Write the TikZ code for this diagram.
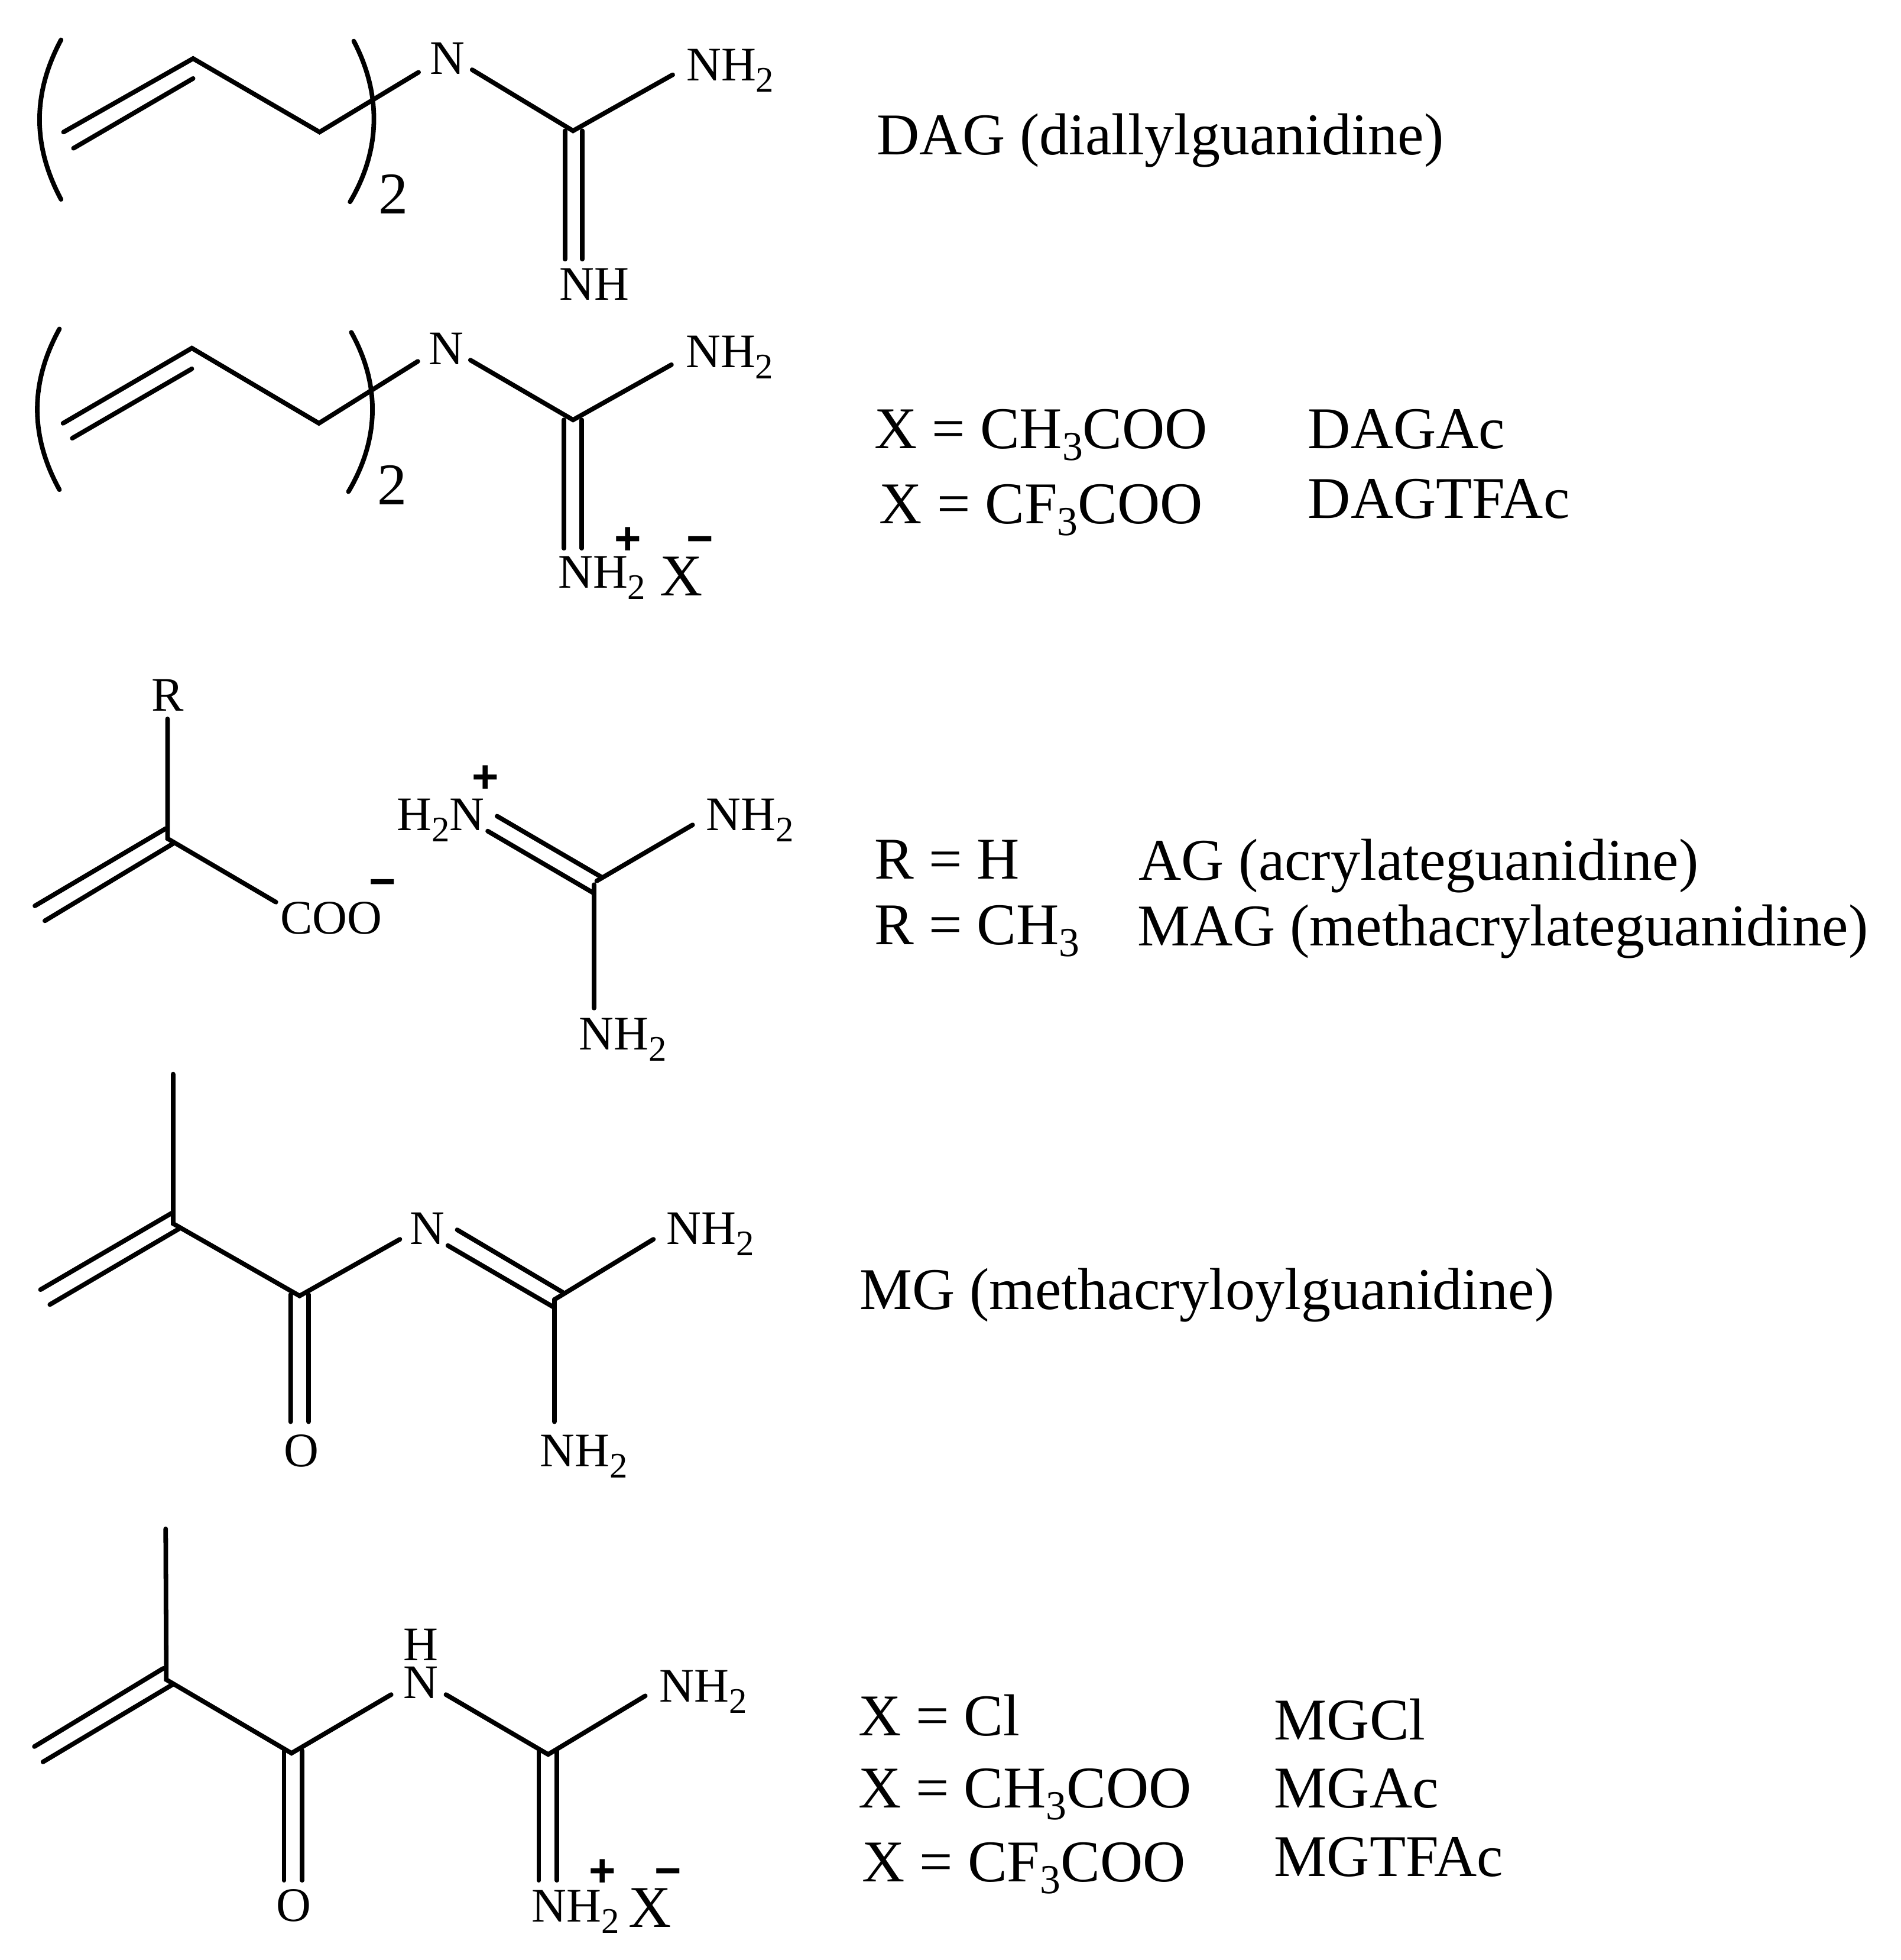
\documentclass[tikz,border=0pt]{standalone}
\usepackage{fontspec}
\setmainfont{Liberation Serif}
\newfontfamily\chargefont{Liberation Sans}
\usetikzlibrary{calc,positioning}
\newcommand{\atomsub}[1]{\raisebox{-2.5pt}{\fontsize{8.2}{8.2}\selectfont #1}}
\newcommand{\labsub}[1]{\raisebox{-2.7pt}{\fontsize{9.4}{9.4}\selectfont #1}}
\tikzset{
  bond/.style={line width=1.05pt, line cap=round, line join=miter},
  atom/.style={inner sep=0pt, outer sep=0pt, font=\fontsize{11}{12}\selectfont},
  lab/.style={inner sep=0pt, outer sep=0pt, anchor=base west, font=\fontsize{13.5}{15}\selectfont},
  charge/.style={inner sep=0pt, outer sep=0pt, anchor=base, font=\fontsize{10.5}{12}\chargefont\bfseries},
}
\begin{document}
\begin{tikzpicture}[x=0.01cm, y=-0.01cm]
    \useasboundingbox (0,0) rectangle (1526,1573);

    % DAG
    \coordinate (dagA) at (51,106);
    \coordinate (dagB) at (155,47);
    \coordinate (dagAi) at (59,119);
    \coordinate (dagBi) at (155,63);
    \coordinate (dagC) at (256.5,106);
    \coordinate (dagG) at (460,105);
    \node[atom, anchor=base] (dagN) at (359,59.4) {N};
    \node[atom, anchor=base west] (dagNHtwo) at (551,65) {NH\atomsub{2}};
    \node[atom, anchor=base west] (dagNH) at (449,240.6) {NH};
    \draw[bond] (dagA) -- (dagB) -- (dagC) -- ([shift={(-23,-1.4)}]dagN.base);
    \draw[bond] (dagAi) -- (dagBi);
    \draw[bond] ([shift={(20,-3.4)}]dagN.base) -- (dagG) -- ([shift={(-11,-5)}]dagNHtwo.base west);
    \draw[bond] (453.6,105) -- ([shift={(4.6,-32.6)}]dagNH.base west);
    \draw[bond] (467.5,105) -- ([shift={(18.5,-32.6)}]dagNH.base west);
    \draw[bond] (49,32) .. controls (26,75) and (26,117) .. (49,160);
    \draw[bond] (284,33) .. controls (306,75) and (306,120) .. (281,162);
    \node[lab] (dagTwo) at (304,171.5) {2};
    \node[lab] (dagName) at (704,124) {DAG (diallylguanidine)};

    % DAG salts
    \coordinate (salA) at (50.6,339.7);
    \coordinate (salB) at (154,279.4);
    \coordinate (salAi) at (58,351.7);
    \coordinate (salBi) at (154,296);
    \coordinate (salC) at (256,339.7);
    \coordinate (salG) at (460,337);
    \node[atom, anchor=base] (salN) at (358,292.4) {N};
    \node[atom, anchor=base west] (salNHtwo) at (550.5,295) {NH\atomsub{2}};
    \node[atom, anchor=base west] (salNHplus) at (448,472) {NH\atomsub{2}};
    \draw[bond] (salA) -- (salB) -- (salC) -- ([shift={(-22.6,-2.4)}]salN.base);
    \draw[bond] (salAi) -- (salBi);
    \draw[bond] ([shift={(19.6,-3.4)}]salN.base) -- (salG) -- ([shift={(-11.5,-2.3)}]salNHtwo.base west);
    \draw[bond] (452.7,337) -- ([shift={(4.7,-32)}]salNHplus.base west);
    \draw[bond] (467,337) -- ([shift={(19,-32)}]salNHplus.base west);
    \draw[bond] (47.7,264) .. controls (24,307) and (24,350) .. (47.7,393);
    \draw[bond] (282,266.7) .. controls (305,308) and (305,352) .. (279.7,394.6);
    \node[lab] (salTwo) at (303,405) {2};
    \node[charge] (salPlus) at (504,445) {+};
    \node[lab] (salX) at (530,478) {X};
    \node[charge] (salMinus) at (562,445) {−};
    \node[lab] (salXa) at (702,360) {X = CH\labsub{3}COO};
    \node[lab] (salXb) at (706,420) {X = CF\labsub{3}COO};
    \node[lab] (salNa) at (1050,360) {DAGAc};
    \node[lab] (salNb) at (1050,416) {DAGTFAc};

    % AG / MAG
    \node[atom, anchor=base] (agR) at (134.5,570.5) {R};
    \coordinate (agC) at (134.5,673);
    \coordinate (agCo) at (133,665);
    \coordinate (agA) at (28,727);
    \coordinate (agCi) at (139,677);
    \coordinate (agAi) at (36,739);
    \coordinate (agG) at (477,710);
    \node[atom, anchor=base west] (agCOO) at (225,749.7) {COO};
    \node[atom, anchor=base east] (agNplus) at (389,666.5) {H\atomsub{2}N};
    \node[atom, anchor=base west] (agNHa) at (567,666.5) {NH\atomsub{2}};
    \node[atom, anchor=base west] (agNHb) at (465,842.7) {NH\atomsub{2}};
    \draw[bond] ([shift={(0,6.5)}]agR.base) -- (agC) -- ([shift={(-3.5,-25.7)}]agCOO.base west);
    \draw[bond] (agA) -- (agCo);
    \draw[bond] (agAi) -- (agCi);
    \draw[bond] ([shift={(10,-11.5)}]agNplus.base east) -- (483,704);
    \draw[bond] ([shift={(2.5,0.5)}]agNplus.base east) -- (477,717);
    \draw[bond] (agG) -- ([shift={(12,-33.7)}]agNHb.base west);
    \draw[bond] (479,707) -- ([shift={(-11,-4.5)}]agNHa.base west);
    \node[charge] (agMinus) at (307,720) {−};
    \node[charge] (agPlus) at (389.5,636) {+};
    \node[lab] (agRa) at (702,705.5) {R = H};
    \node[lab] (agRb) at (702,758) {R = CH\labsub{3}};
    \node[lab] (agNa) at (914,706.5) {AG (acrylateguanidine)};
    \node[lab] (agNb) at (913,759) {MAG (methacrylateguanidine)};

    % MG
    \coordinate (mgMe) at (139,862);
    \coordinate (mgC) at (139,982);
    \coordinate (mgA) at (32.5,1035);
    \coordinate (mgCo) at (138,973.5);
    \coordinate (mgAi) at (40,1047);
    \coordinate (mgCi) at (144,986);
    \coordinate (mgK) at (240.5,1040);
    \coordinate (mgG) at (445,1043);
    \node[atom, anchor=base] (mgN) at (343,998.7) {N};
    \node[atom, anchor=base] (mgO) at (242,1177) {O};
    \node[atom, anchor=base west] (mgNHa) at (535,998.7) {NH\atomsub{2}};
    \node[atom, anchor=base west] (mgNHb) at (433.5,1177) {NH\atomsub{2}};
    \draw[bond] (mgMe) -- (mgC) -- (mgK) -- ([shift={(-22,-4.1)}]mgN.base);
    \draw[bond] (mgA) -- (mgCo);
    \draw[bond] (mgAi) -- (mgCi);
    \draw[bond] ([shift={(24,-11.7)}]mgN.base) -- (451.5,1037);
    \draw[bond] ([shift={(16.5,0.9)}]mgN.base) -- (445,1049.4);
    \draw[bond] (mgG) -- ([shift={(-10.5,-4.1)}]mgNHa.base west);
    \draw[bond] (mgG) -- ([shift={(11.5,-36)}]mgNHb.base west);
    \draw[bond] (233.3,1039) -- ([shift={(-8.7,-36)}]mgO.base);
    \draw[bond] (247.7,1039) -- ([shift={(5.7,-36)}]mgO.base);
    \node[lab] (mgName) at (690,1051) {MG (methacryloylguanidine)};

    % MG salts
    \coordinate (msMe) at (133,1227);
    \coordinate (msC) at (133.5,1348);
    \coordinate (msA) at (27.6,1401.7);
    \coordinate (msCo) at (131,1339);
    \coordinate (msAi) at (34.5,1414);
    \coordinate (msCi) at (138.4,1352);
    \coordinate (msK) at (234,1407);
    \coordinate (msG) at (440,1408);
    \node[atom, anchor=base] (msH) at (338,1332.5) {H};
    \node[atom, anchor=base] (msN) at (338,1363) {N};
    \node[atom, anchor=base] (msO) at (236,1542) {O};
    \node[atom, anchor=base west] (msNHa) at (529.5,1366) {NH\atomsub{2}};
    \node[atom, anchor=base west] (msNHplus) at (427,1542.4) {NH\atomsub{2}};
    \draw[bond] (msMe) -- (msC) -- (msK) -- ([shift={(-24,-3)}]msN.base);
    \draw[bond] (msA) -- (msCo);
    \draw[bond] (msAi) -- (msCi);
    \draw[bond] ([shift={(20,-3)}]msN.base) -- (msG) -- ([shift={(-11.5,-5)}]msNHa.base west);
    \draw[bond] (228,1405) -- ([shift={(-8,-33)}]msO.base);
    \draw[bond] (242.6,1405) -- ([shift={(6.6,-33)}]msO.base);
    \draw[bond] (432.5,1405) -- ([shift={(5.5,-33.4)}]msNHplus.base west);
    \draw[bond] (447,1405) -- ([shift={(20,-33.4)}]msNHplus.base west);
    \node[charge] (msPlus) at (483.7,1514) {+};
    \node[lab] (msX) at (504.5,1546.8) {X};
    \node[charge] (msMinus) at (536.3,1514) {−};
    \node[lab] (msXa) at (689,1393) {X = Cl};
    \node[lab] (msXb) at (689,1451) {X = CH\labsub{3}COO};
    \node[lab] (msXc) at (692,1510) {X = CF\labsub{3}COO};
    \node[lab] (msNa) at (1023,1396) {MGCl};
    \node[lab] (msNb) at (1023,1451) {MGAc};
    \node[lab] (msNc) at (1023,1506) {MGTFAc};
\end{tikzpicture}
\end{document}
